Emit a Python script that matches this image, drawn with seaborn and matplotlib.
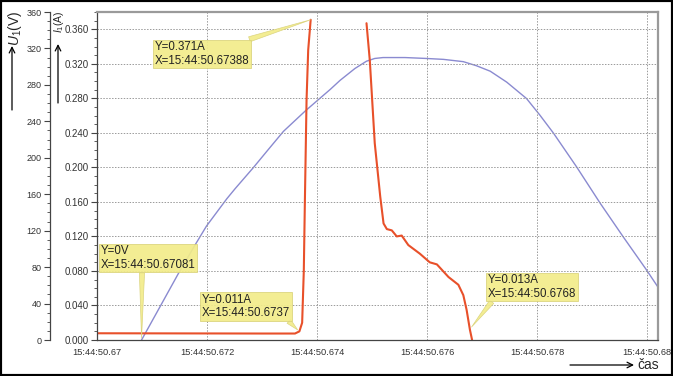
import matplotlib
matplotlib.use("Agg")
import matplotlib.pyplot as plt
import pandas as pd
import seaborn as sns
from matplotlib.patches import Rectangle
from matplotlib.ticker import MultipleLocator

# time in ms after 15:44:50.670
t_u = [0.81, 1.15, 1.48, 1.78, 1.99, 2.36, 2.51, 2.84, 3.10, 3.39, 3.78, 3.99,
       4.24, 4.42, 4.69, 4.90, 5.05, 5.20, 5.60, 5.99, 6.30, 6.66, 6.90, 7.15,
       7.45, 7.81, 8.05, 8.30, 8.72, 9.15, 9.57, 9.99, 10.20]
u = [0, 37, 73, 104, 125, 155, 166, 189, 208, 229, 251, 262,
     275, 285, 298, 306, 309, 310, 310, 309, 308, 305.5, 301, 295,
     283, 265, 247, 227, 190, 150, 113, 77, 58]

t_i_rise = [0.0, 1.0, 2.0, 3.0, 3.60, 3.68, 3.73, 3.76, 3.78, 3.81, 3.84, 3.885]
i_rise = [0.0078, 0.0077, 0.0076, 0.0075, 0.0075, 0.010, 0.02, 0.08, 0.162, 0.278, 0.336, 0.371]
t_i_fall = [4.90, 4.96, 5.05, 5.15, 5.21, 5.27, 5.36, 5.45, 5.54, 5.66, 5.87, 6.05,
            6.18, 6.39, 6.57, 6.66, 6.72, 6.78, 6.82]
i_fall = [0.367, 0.324, 0.228, 0.166, 0.135, 0.1285, 0.127, 0.120, 0.121, 0.110, 0.100, 0.090,
          0.0876, 0.073, 0.064, 0.052, 0.035, 0.012, 0.0]

xticks = [0, 2, 4, 6, 8, 10]
xtick_labels = ["15:44:50.67", "15:44:50.672", "15:44:50.674",
                "15:44:50.676", "15:44:50.678", "15:44:50.68"]

notes = [
    ("Y=0.371A\nX=15:44:50.67388", (3.885, 0.371), (1.055, 0.3314), (0.93, 1.0)),
    ("Y=0V\nX=15:44:50.67081", (0.81, 0.002), (0.06, 0.0949), (0.44, 0.0)),
    ("Y=0.011A\nX=15:44:50.6737", (3.65, 0.0116), (1.91, 0.0386), (0.96, 0.0)),
    ("Y=0.013A\nX=15:44:50.6768", (6.81, 0.015), (7.11, 0.0613), (0.06, 0.0)),
]

sns.set_style("white")
plt.rcParams["font.family"] = ["Liberation Sans", "DejaVu Sans"]
plt.rcParams["mathtext.fontset"] = "custom"
plt.rcParams["mathtext.rm"] = "Liberation Sans"
plt.rcParams["mathtext.it"] = "Liberation Sans:italic"

df_u = pd.DataFrame({"t": t_u, "u": u})
df_i = pd.concat([
    pd.DataFrame({"t": t_i_rise, "i": i_rise, "seg": 0}),
    pd.DataFrame({"t": t_i_fall, "i": i_fall, "seg": 1}),
], ignore_index=True)

fig = plt.figure(figsize=(6.73, 3.76), dpi=100)
ax = fig.add_axes([97 / 673, 36 / 376, 561 / 673, 328 / 376])
ax2 = ax.twinx()

sns.lineplot(data=df_u, x="t", y="u", ax=ax2, color="#8a8ad0", linewidth=1.0,
             estimator=None, sort=False, legend=False)
sns.lineplot(data=df_i, x="t", y="i", units="seg", ax=ax, color="#e8502a",
             linewidth=1.5, estimator=None, sort=False, legend=False)

ax.set_zorder(ax2.get_zorder() + 1)
ax.patch.set_visible(False)

ax.set_xlim(0, 10.2)
ax.set_ylim(0, 0.38)
ax2.set_ylim(0, 360)

ax.set_xticks(xticks)
ax.set_xticklabels(xtick_labels)
ax.xaxis.set_minor_locator(MultipleLocator(0.5))
ax.yaxis.set_major_locator(MultipleLocator(0.04))
ax.yaxis.set_minor_locator(MultipleLocator(0.01))
ax.yaxis.set_major_formatter(lambda v, p: f"{v:.3f}")
ax2.yaxis.set_major_locator(MultipleLocator(40))
ax2.yaxis.set_minor_locator(MultipleLocator(10))

ax.set_xlabel("")
ax.set_ylabel("")
ax2.set_ylabel("")

ax.grid(True, which="major", linestyle=(0, (1.5, 1.5)), color="#9a9a9a", linewidth=0.7)

for s in ["top", "right"]:
    ax.spines[s].set_color("#9a9a9a")
    ax.spines[s].set_linewidth(1.6)
for s in ["left", "bottom"]:
    ax.spines[s].set_color("#444444")
    ax.spines[s].set_linewidth(0.9)

ax2.spines["left"].set_position(("outward", 47 * 0.72))
ax2.spines["left"].set_visible(True)
ax2.spines["left"].set_color("#444444")
ax2.spines["left"].set_linewidth(0.9)
ax2.spines["right"].set_visible(False)
ax2.spines["top"].set_visible(False)
ax2.spines["bottom"].set_visible(False)
ax2.yaxis.set_ticks_position("left")
ax2.yaxis.set_label_position("left")

ax.tick_params(axis="both", which="major", direction="out", length=4, width=0.8,
               color="#444444", labelcolor="#333333", pad=2)
ax.tick_params(axis="both", which="minor", direction="out", length=2, width=0.6, color="#444444")
ax.tick_params(axis="x", labelsize=6.7)
ax.tick_params(axis="y", labelsize=7.0)
ax.tick_params(axis="x", which="both", top=False)
ax.tick_params(axis="y", which="both", right=False, left=True)
ax2.tick_params(axis="y", which="major", direction="out", length=4, width=0.8,
                color="#444444", labelcolor="#333333", labelsize=6.5, pad=2)
ax2.tick_params(axis="y", which="minor", direction="out", length=2, width=0.6, color="#444444")

for text, xy, xytext, rel in notes:
    ax.annotate(text, xy=xy, xytext=xytext, xycoords="data", textcoords="data",
                ha="left", va="center", fontsize=8.3, linespacing=1.15, color="#222222",
                bbox=dict(boxstyle="square,pad=0.15", fc="#f2ec8a", ec="#d9d27a", lw=0.6, alpha=0.92),
                arrowprops=dict(arrowstyle="wedge,tail_width=0.45", fc="#f2ec8a", ec="#d9d27a",
                                lw=0.5, alpha=0.92, relpos=rel, shrinkA=0, shrinkB=0),
                zorder=5)

# axis names with arrows
fig.text(15 / 673, 1 - 28 / 376, r"$U_1$(V)", rotation=90, ha="center", va="center", fontsize=10)
fig.text(59 / 673, 1 - 22 / 376, r"$I_1$(A)", rotation=90, ha="center", va="center", fontsize=7.5)
arrow = dict(arrowstyle="->", lw=0.9, color="black", shrinkA=0, shrinkB=0, mutation_scale=10)
ax.annotate("", xy=(12, 376 - 46), xytext=(12, 376 - 110), xycoords="figure pixels",
            textcoords="figure pixels", arrowprops=arrow)
ax.annotate("", xy=(58, 376 - 44), xytext=(58, 376 - 103), xycoords="figure pixels",
            textcoords="figure pixels", arrowprops=arrow)
ax.annotate("", xy=(634, 376 - 365), xytext=(570, 376 - 365), xycoords="figure pixels",
            textcoords="figure pixels", arrowprops=arrow)
fig.text(637 / 673, 1 - 365 / 376, "čas", ha="left", va="center", fontsize=10)

fig.add_artist(Rectangle((0, 0), 1, 1, transform=fig.transFigure, fill=False,
                         ec="black", lw=3))

fig.savefig("out.png", dpi=100)
